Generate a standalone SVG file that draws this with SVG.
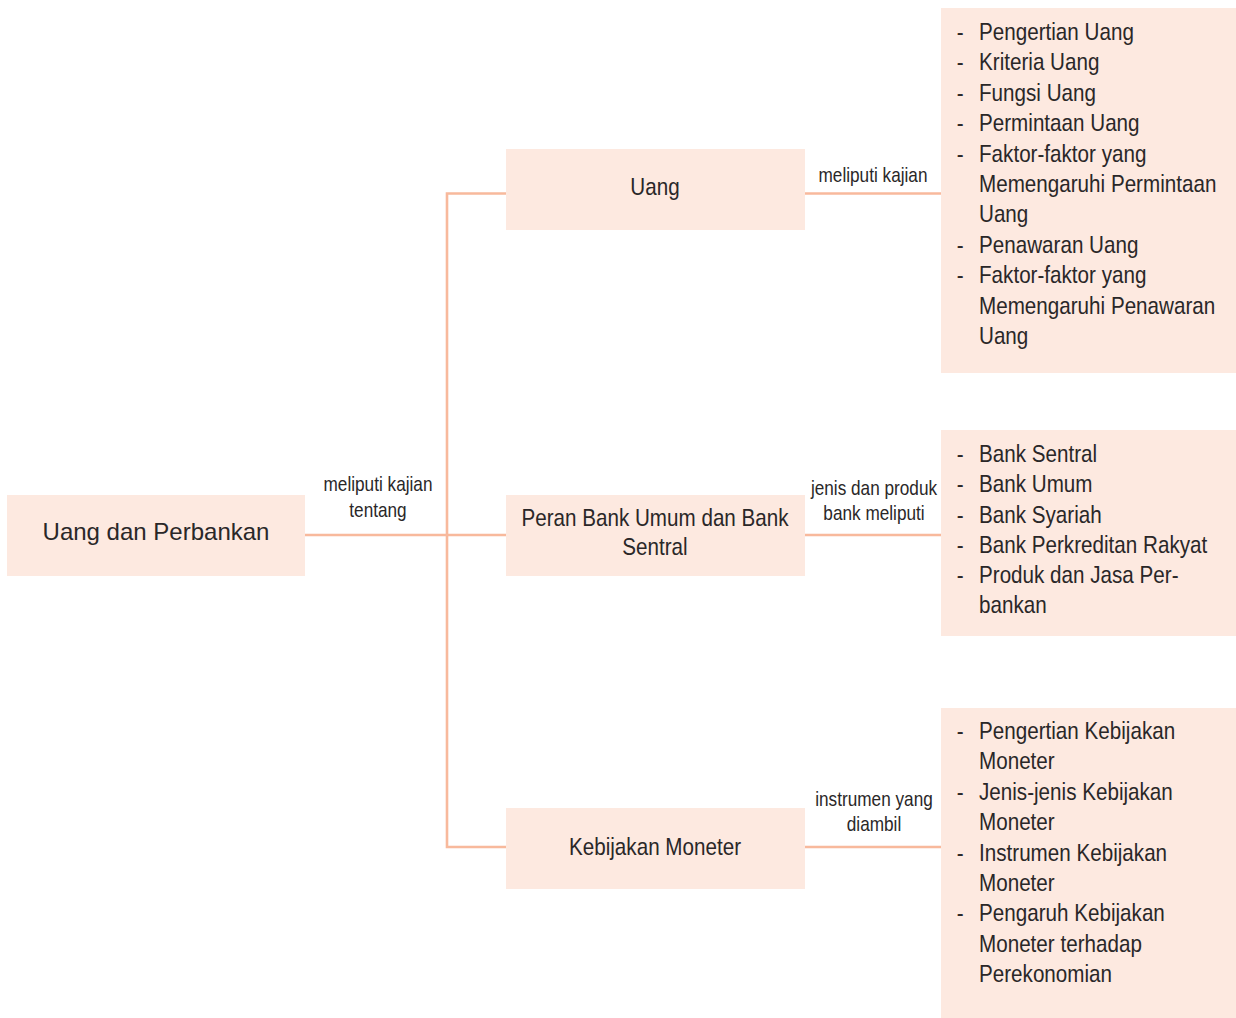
<svg xmlns="http://www.w3.org/2000/svg" width="1236" height="1018" viewBox="0 0 1236 1018">
<style>
.box{fill:#fde9e0;}
.conn{fill:none;stroke:#f8b99c;stroke-width:2.6;}
text{font-family:"Liberation Sans",Arial,sans-serif;fill:#2a2728;}
.n{font-size:24px;text-anchor:middle;}
.l{font-size:24px;}
.e{font-size:20px;text-anchor:middle;}
</style>
<rect width="1236" height="1018" fill="#ffffff"/>
<g id="connectors">
<path class="conn" d="M506,193.5 H447 V847 H506"/>
<path class="conn" d="M305,535 H506"/>
<path class="conn" d="M805,193.5 H941"/>
<path class="conn" d="M805,535 H941"/>
<path class="conn" d="M805,847 H941"/>
</g>
<g id="edge-labels">
<g transform="translate(378,0) scale(0.86,1)"><text class="e" x="0" y="491">meliputi kajian</text><text class="e" x="0" y="517">tentang</text></g>
<g transform="translate(873,0) scale(0.86,1)"><text class="e" x="0" y="182">meliputi kajian</text></g>
<g transform="translate(874,0) scale(0.86,1)"><text class="e" x="0" y="495">jenis dan produk</text><text class="e" x="0" y="520">bank meliputi</text></g>
<g transform="translate(874,0) scale(0.86,1)"><text class="e" x="0" y="806">instrumen yang</text><text class="e" x="0" y="831">diambil</text></g>
</g>
<g id="node-root">
<rect class="box" x="7" y="495" width="298" height="81"/>
<text class="n" x="156" y="540">Uang dan Perbankan</text>
</g>
<g id="node-uang">
<rect class="box" x="506" y="149" width="299" height="81"/>
<g transform="translate(655,0) scale(0.86,1)"><text class="n" x="0" y="195">Uang</text></g>
</g>
<g id="node-bank">
<rect class="box" x="506" y="495" width="299" height="81"/>
<g transform="translate(655,0) scale(0.86,1)"><text class="n" x="0" y="526">Peran Bank Umum dan Bank</text><text class="n" x="0" y="555">Sentral</text></g>
</g>
<g id="node-moneter">
<rect class="box" x="506" y="808" width="299" height="81"/>
<g transform="translate(655,0) scale(0.86,1)"><text class="n" x="0" y="855">Kebijakan Moneter</text></g>
</g>
<g id="list-uang">
<rect class="box" x="941" y="8" width="295" height="365"/>
<g transform="translate(979,0) scale(0.86,1)">
<text class="l" x="-26" y="40">-</text><text class="l" x="0" y="40">Pengertian Uang</text>
<text class="l" x="-26" y="70.4">-</text><text class="l" x="0" y="70.4">Kriteria Uang</text>
<text class="l" x="-26" y="100.8">-</text><text class="l" x="0" y="100.8">Fungsi Uang</text>
<text class="l" x="-26" y="131.2">-</text><text class="l" x="0" y="131.2">Permintaan Uang</text>
<text class="l" x="-26" y="161.6">-</text><text class="l" x="0" y="161.6">Faktor-faktor yang</text>
<text class="l" x="0" y="192">Memengaruhi Permintaan</text>
<text class="l" x="0" y="222.4">Uang</text>
<text class="l" x="-26" y="252.8">-</text><text class="l" x="0" y="252.8">Penawaran Uang</text>
<text class="l" x="-26" y="283.2">-</text><text class="l" x="0" y="283.2">Faktor-faktor yang</text>
<text class="l" x="0" y="313.6">Memengaruhi Penawaran</text>
<text class="l" x="0" y="344">Uang</text>
</g>
</g>
<g id="list-bank">
<rect class="box" x="941" y="430" width="295" height="206"/>
<g transform="translate(979,0) scale(0.86,1)">
<text class="l" x="-26" y="462">-</text><text class="l" x="0" y="462">Bank Sentral</text>
<text class="l" x="-26" y="492.3">-</text><text class="l" x="0" y="492.3">Bank Umum</text>
<text class="l" x="-26" y="522.6">-</text><text class="l" x="0" y="522.6">Bank Syariah</text>
<text class="l" x="-26" y="552.9">-</text><text class="l" x="0" y="552.9">Bank Perkreditan Rakyat</text>
<text class="l" x="-26" y="583.2">-</text><text class="l" x="0" y="583.2">Produk dan Jasa Per-</text>
<text class="l" x="0" y="613.5">bankan</text>
</g>
</g>
<g id="list-moneter">
<rect class="box" x="941" y="708" width="295" height="310"/>
<g transform="translate(979,0) scale(0.86,1)">
<text class="l" x="-26" y="739">-</text><text class="l" x="0" y="739">Pengertian Kebijakan</text>
<text class="l" x="0" y="769.4">Moneter</text>
<text class="l" x="-26" y="799.8">-</text><text class="l" x="0" y="799.8">Jenis-jenis Kebijakan</text>
<text class="l" x="0" y="830.2">Moneter</text>
<text class="l" x="-26" y="860.6">-</text><text class="l" x="0" y="860.6">Instrumen Kebijakan</text>
<text class="l" x="0" y="891">Moneter</text>
<text class="l" x="-26" y="921.4">-</text><text class="l" x="0" y="921.4">Pengaruh Kebijakan</text>
<text class="l" x="0" y="951.8">Moneter terhadap</text>
<text class="l" x="0" y="982.2">Perekonomian</text>
</g>
</g>
</svg>
